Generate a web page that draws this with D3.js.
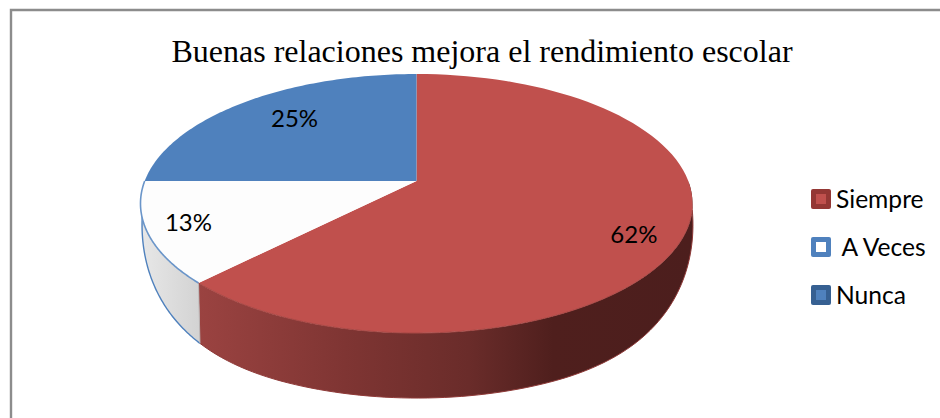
<!DOCTYPE html>
<html>
<head>
<meta charset="utf-8">
<script src="https://cdn.jsdelivr.net/npm/d3@7"></script>
<style>html,body{margin:0;padding:0;background:#fff}svg{display:block}</style>
</head>
<body>
<svg id="c" width="940" height="418"></svg>
<script>
const categories = ["Siempre", " A Veces", "Nunca"];
const values = [62.4, 12.6, 25];
const labels = ["62%", "13%", "25%"];
const topColors = ["#c0504d", "#fdfdfd", "#4f81bd"];
const legendBorder = ["#943734", "#4f81bd", "#366092"];
const legendInner = ["#c0504d", "#ffffff", "#4f81bd"];
const titleText = "Buenas relaciones mejora el rendimiento escolar";

const svg = d3.select("#c");
const cx = 416.5, cy = 181, A = 271.8, B = 125.6, K = 0.174, depth = 65;
const pieAngles = d3.pie().sort(null).value(d => d)(values);

function proj(theta, r = 1) {
  const x = r * Math.sin(theta), y = r * Math.cos(theta), w = 1 + K * y;
  return [cx + A * x / w, cy - B * y / w];
}
function projBottom(theta) {
  const p = proj(theta);
  const n = Math.min(1, Math.max(0, (p[1] - cy) / 152) / 0.9);
  return [cx + 1 + (p[0] - cx) * 0.998, p[1] + depth * (0.1 + 0.9 * Math.sin(n * Math.PI / 2))];
}
const samples = (a, b) => d3.range(0, 91).map(i => a + (b - a) * i / 90);
const line = d3.line();

const defs = svg.append("defs");
const gRed = defs.append("linearGradient").attr("id", "redSide")
  .attr("gradientUnits", "userSpaceOnUse").attr("x1", 196).attr("x2", 692).attr("y1", 0).attr("y2", 0);
[[0, "#9b4341"], [0.3, "#7f3533"], [0.55, "#6a2c2a"], [0.72, "#4f1f1d"], [1, "#4c1e1d"]]
  .forEach(s => gRed.append("stop").attr("offset", s[0]).attr("stop-color", s[1]));
const gGray = defs.append("linearGradient").attr("id", "graySide")
  .attr("gradientUnits", "userSpaceOnUse").attr("x1", 145).attr("x2", 202).attr("y1", 0).attr("y2", 0);
[[0, "#e6e6e6"], [1, "#d2d2d2"]].forEach(s => gGray.append("stop").attr("offset", s[0]).attr("stop-color", s[1]));
const sideFills = ["url(#redSide)", "url(#graySide)", "none"];

// frame
svg.append("path").attr("d", "M11,418V10H940").attr("fill", "none").attr("stroke", "#8c8c8c").attr("stroke-width", 2.4);

// title
svg.append("text").attr("x", 482).attr("y", 62).attr("text-anchor", "middle")
  .attr("font-family", "Liberation Serif").attr("font-size", 32).attr("fill", "#000").text(titleText);

// sides (front half only)
const frontA = Math.PI * 0.5, frontB = Math.PI * 1.5;
pieAngles.forEach((d, i) => {
  const a = Math.max(d.startAngle, frontA), b = Math.min(d.endAngle, frontB);
  if (b <= a || sideFills[i] === "none") return;
  const ts = samples(a, b);
  const pts = ts.map(t => proj(t)).concat(ts.slice().reverse().map(t => projBottom(t)));
  svg.append("path").attr("d", line(pts) + "Z").attr("fill", sideFills[i]);
  svg.append("path").attr("d", line(ts.map(projBottom))).attr("fill", "none")
    .attr("stroke", i === 1 ? "#4f81bd" : "#8f3a38").attr("stroke-width", i === 1 ? 1.4 : 1);
});
const wall = pieAngles[0].endAngle;
svg.append("path").attr("d", line([proj(wall), projBottom(wall)])).attr("stroke", "#b9b3b3").attr("stroke-width", 1).attr("fill", "none");

// top faces
pieAngles.forEach((d, i) => {
  const pts = [[cx, cy]].concat(samples(d.startAngle, d.endAngle).map(t => proj(t)));
  svg.append("path").attr("d", line(pts) + "Z").attr("fill", topColors[i]);
});
// white slice outline
const wa = pieAngles[1];
svg.append("path").attr("d", line(samples(wa.startAngle, wa.endAngle).map(t => proj(t))))
  .attr("fill", "none").attr("stroke", "#6a95c9").attr("stroke-width", 1.6);
// soft rim on the red front
svg.append("path").attr("d", line(samples(pieAngles[0].startAngle + 1.8, pieAngles[0].endAngle).map(t => proj(t))))
  .attr("fill", "none").attr("stroke", "#a64744").attr("stroke-width", 1);

// data labels
const labelRadius = 0.8;
const labelNudge = [[5, 14], [-16, 1], [18, 3]];
pieAngles.forEach((d, i) => {
  const p = proj((d.startAngle + d.endAngle) / 2, labelRadius);
  svg.append("text").attr("x", p[0] + labelNudge[i][0]).attr("y", p[1] + labelNudge[i][1] + 8)
    .attr("text-anchor", "middle").attr("font-family", "Lato").attr("font-size", 24).attr("fill", "#000").text(labels[i]);
});

// legend
const yLegend = d3.scalePoint().domain(categories).range([199, 295]);
categories.forEach((c, i) => {
  const y = yLegend(c);
  svg.append("rect").attr("x", 811).attr("y", y - 10).attr("width", 20).attr("height", 20).attr("rx", 2).attr("fill", legendBorder[i]);
  svg.append("rect").attr("x", 816).attr("y", y - 5).attr("width", 10).attr("height", 10).attr("fill", legendInner[i]);
  svg.append("text").attr("x", 836).attr("y", y + 9).style("white-space", "pre")
    .attr("font-family", "Lato").attr("font-size", 24.6).attr("fill", "#000").text(c);
});
</script>
</body>
</html>
